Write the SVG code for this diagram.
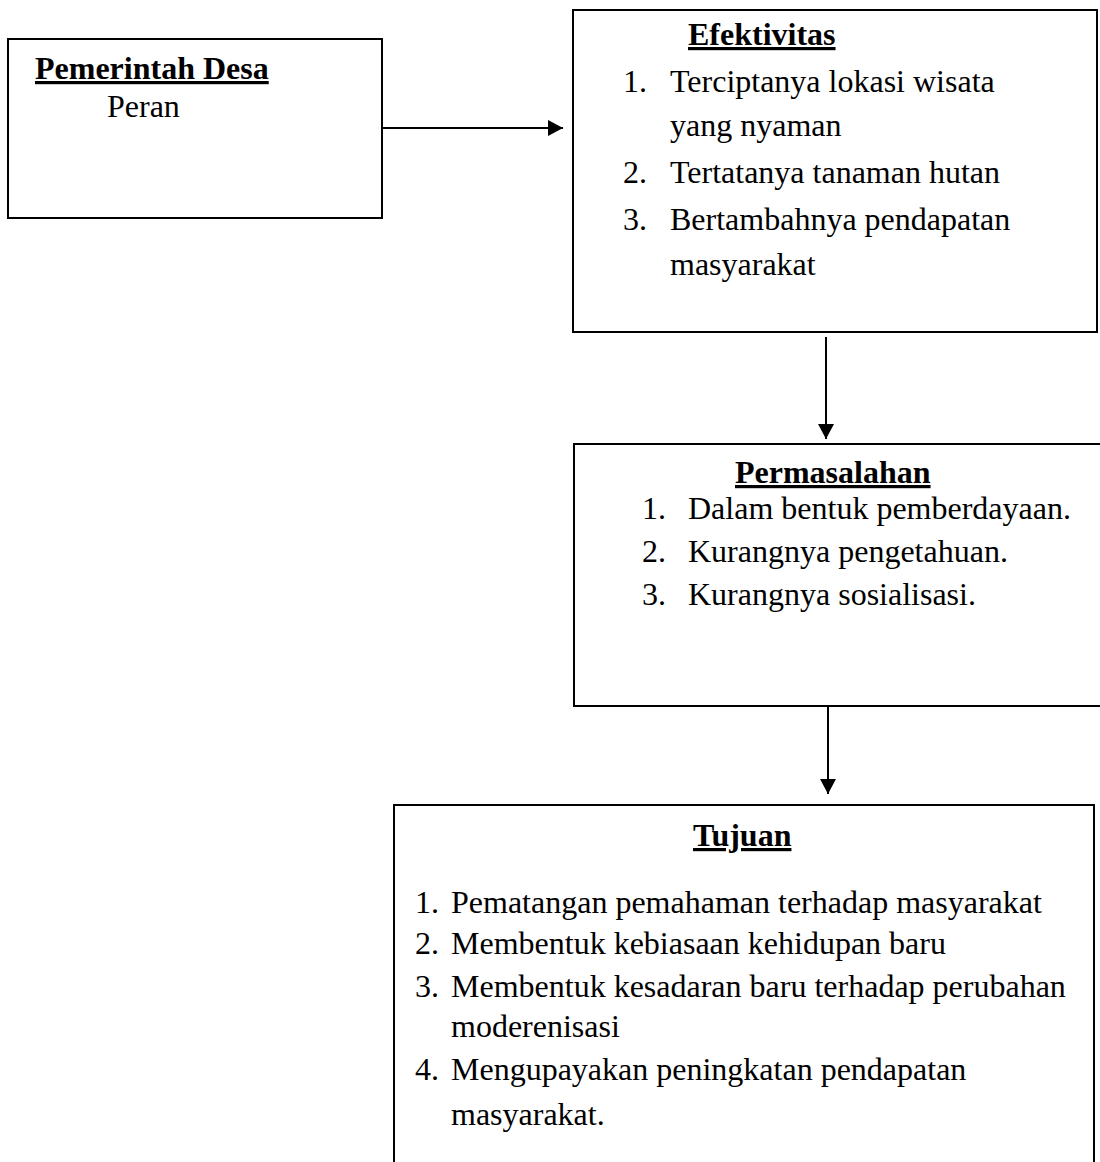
<svg xmlns="http://www.w3.org/2000/svg" width="1100" height="1162" viewBox="0 0 1100 1162">
<style>
  .box { fill: none; stroke: #000; stroke-width: 2; }
  .conn { stroke: #000; stroke-width: 2; fill: none; }
  text { font-family: "Liberation Serif", "Times New Roman", serif; font-size: 32px; fill: #000; }
  .title { font-weight: bold; text-decoration: underline; }
</style>
<defs>
  <marker id="arrow" markerUnits="userSpaceOnUse" markerWidth="16" markerHeight="16" refX="15" refY="8" orient="auto">
    <path d="M0,0 L15,8 L0,16 Z" fill="#000"/>
  </marker>
</defs>
<rect width="1100" height="1162" fill="#fff"/>

<g id="node-pemerintah">
  <rect class="box" x="8" y="39" width="374" height="179"/>
  <text class="title" x="35" y="79">Pemerintah Desa</text>
  <text x="107" y="117">Peran</text>
</g>

<g id="node-efektivitas">
  <rect class="box" x="573" y="10" width="524" height="322"/>
  <text class="title" x="688" y="45">Efektivitas</text>
  <text x="623" y="92">1.</text>
  <text x="670" y="92">Terciptanya lokasi wisata</text>
  <text x="670" y="136">yang nyaman</text>
  <text x="623" y="183">2.</text>
  <text x="670" y="183">Tertatanya tanaman hutan</text>
  <text x="623" y="230">3.</text>
  <text x="670" y="230">Bertambahnya pendapatan</text>
  <text x="670" y="275">masyarakat</text>
</g>

<g id="node-permasalahan">
  <rect class="box" x="574" y="444" width="530" height="262"/>
  <text class="title" x="735" y="483">Permasalahan</text>
  <text x="642" y="519">1.</text>
  <text x="688" y="519">Dalam bentuk pemberdayaan.</text>
  <text x="642" y="562">2.</text>
  <text x="688" y="562">Kurangnya pengetahuan.</text>
  <text x="642" y="605">3.</text>
  <text x="688" y="605">Kurangnya sosialisasi.</text>
</g>

<g id="node-tujuan">
  <path class="box" d="M394,1164 V805 H1094 V1164"/>
  <text class="title" x="693" y="846">Tujuan</text>
  <text x="415" y="913">1.</text>
  <text x="451" y="913">Pematangan pemahaman terhadap  masyarakat</text>
  <text x="415" y="954">2.</text>
  <text x="451" y="954">Membentuk kebiasaan kehidupan baru</text>
  <text x="415" y="997">3.</text>
  <text x="451" y="997">Membentuk kesadaran baru terhadap perubahan</text>
  <text x="451" y="1037">moderenisasi</text>
  <text x="415" y="1080">4.</text>
  <text x="451" y="1080">Mengupayakan peningkatan pendapatan</text>
  <text x="451" y="1125">masyarakat.</text>
</g>

<g id="connectors">
  <line class="conn" x1="382" y1="128" x2="563" y2="128" marker-end="url(#arrow)"/>
  <line class="conn" x1="826" y1="337" x2="826" y2="439" marker-end="url(#arrow)"/>
  <line class="conn" x1="828" y1="706" x2="828" y2="794" marker-end="url(#arrow)"/>
</g>
</svg>
